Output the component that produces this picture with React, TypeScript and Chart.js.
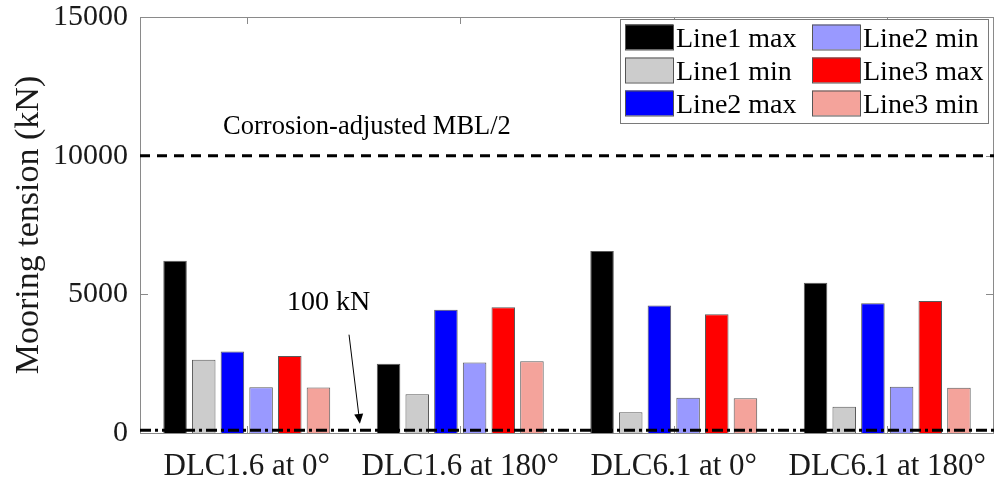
import React, { useEffect, useRef } from "react";
import { Chart, registerables } from "chart.js";

Chart.register(...registerables);

const categories = ["DLC1.6 at 0°", "DLC1.6 at 180°", "DLC6.1 at 0°", "DLC6.1 at 180°"];
const line1Max = [6210, 2500, 6560, 5420];
const line1Min = [2640, 1400, 750, 950];
const line2Max = [2940, 4440, 4600, 4680];
const line2Min = [1650, 2540, 1270, 1670];
const line3Max = [2780, 4530, 4280, 4760];
const line3Min = [1640, 2590, 1250, 1630];
const seriesLabels = ["Line1 max", "Line1 min", "Line2 max", "Line2 min", "Line3 max", "Line3 min"];
const seriesValues = [line1Max, line1Min, line2Max, line2Min, line3Max, line3Min];
const seriesColors = ["#000000", "#cccccc", "#0000ff", "#9999ff", "#ff0000", "#f4a39b"];
const yTicks = [0, 5000, 10000, 15000];
const mblHalf = 10000;
const minTension = 100;
const mblLabel = "Corrosion-adjusted MBL/2";
const minLabel = "100 kN";

const FONT = "'Liberation Serif', 'Times New Roman', serif";
const TEXT = "#1a1a1a";

const overlay = {
  id: "overlay",
  beforeDatasetsDraw(chart: any) {
    const { ctx, chartArea: a, scales } = chart;
    const x = scales.x;
    const y = scales.y;
    ctx.save();
    ctx.strokeStyle = "#8a8a8a";
    ctx.lineWidth = 1;
    ctx.beginPath();
    ctx.moveTo(a.left + 0.5, a.bottom + 0.5);
    ctx.lineTo(a.left + 0.5, a.top + 0.5);
    ctx.lineTo(a.right - 0.5, a.top + 0.5);
    ctx.lineTo(a.right - 0.5, a.bottom + 0.5);
    ctx.lineTo(a.left + 0.5, a.bottom + 0.5);
    for (const v of yTicks) {
      const py = Math.round(y.getPixelForValue(v)) + 0.5;
      ctx.moveTo(a.left, py);
      ctx.lineTo(a.left + 8, py);
      ctx.moveTo(a.right - 8, py);
      ctx.lineTo(a.right, py);
    }
    for (let i = 0; i < categories.length; i++) {
      const px = Math.round(x.getPixelForValue(i)) + 0.5;
      ctx.moveTo(px, a.bottom);
      ctx.lineTo(px, a.bottom - 7);
      ctx.moveTo(px, a.top);
      ctx.lineTo(px, a.top + 7);
    }
    ctx.stroke();
    ctx.restore();
  },
  afterDatasetsDraw(chart: any) {
    const { ctx, chartArea: a, scales } = chart;
    const x = scales.x;
    const y = scales.y;
    ctx.save();
    // threshold lines
    ctx.strokeStyle = "#000";
    ctx.lineWidth = 3;
    ctx.setLineDash([10, 7]);
    let py = y.getPixelForValue(mblHalf);
    ctx.beginPath();
    ctx.moveTo(a.left, py);
    ctx.lineTo(a.right, py);
    ctx.stroke();
    ctx.setLineDash([11, 4, 3, 4]);
    py = y.getPixelForValue(minTension);
    ctx.beginPath();
    ctx.moveTo(a.left, py);
    ctx.lineTo(a.right, py);
    ctx.stroke();
    ctx.setLineDash([]);

    // annotation texts
    ctx.fillStyle = "#000";
    ctx.textAlign = "left";
    ctx.textBaseline = "alphabetic";
    ctx.font = `26.5px ${FONT}`;
    ctx.fillText(mblLabel, x.getPixelForValue(-0.111), y.getPixelForValue(10780));
    ctx.font = `28px ${FONT}`;
    ctx.fillText(minLabel, x.getPixelForValue(0.1885), y.getPixelForValue(4430));

    // arrow
    const x0 = x.getPixelForValue(0.479);
    const y0 = y.getPixelForValue(3545);
    const x1 = x.getPixelForValue(0.53);
    const y1 = y.getPixelForValue(330);
    const ang = Math.atan2(y1 - y0, x1 - x0);
    const hl = 10;
    const hw = 4.5;
    const bx = x1 - hl * Math.cos(ang);
    const by = y1 - hl * Math.sin(ang);
    ctx.strokeStyle = "#000";
    ctx.lineWidth = 1;
    ctx.beginPath();
    ctx.moveTo(x0, y0);
    ctx.lineTo(bx, by);
    ctx.stroke();
    ctx.beginPath();
    ctx.moveTo(x1, y1);
    ctx.lineTo(bx + hw * Math.sin(ang), by - hw * Math.cos(ang));
    ctx.lineTo(bx - hw * Math.sin(ang), by + hw * Math.cos(ang));
    ctx.closePath();
    ctx.fillStyle = "#000";
    ctx.fill();

    // legend
    const boxW = 368;
    const boxH = 104;
    const bl = a.right - 6 - boxW;
    const bt = a.top + 2;
    ctx.fillStyle = "#fff";
    ctx.fillRect(bl, bt, boxW, boxH);
    ctx.strokeStyle = "#7a7a7a";
    ctx.lineWidth = 1;
    ctx.strokeRect(bl + 0.5, bt + 0.5, boxW, boxH);
    ctx.font = `28px ${FONT}`;
    ctx.textBaseline = "alphabetic";
    chart.data.datasets.forEach((ds: any, i: number) => {
      const col = Math.floor(i / 3);
      const row = i % 3;
      const sx = bl + 5 + col * 187;
      const cy = bt + 18 + row * 33;
      ctx.fillStyle = ds.backgroundColor;
      ctx.fillRect(sx, cy - 12.5, 48, 25);
      ctx.strokeStyle = "#555";
      ctx.strokeRect(sx + 0.5, cy - 12.5 + 0.5, 48, 25);
      ctx.fillStyle = "#000";
      ctx.fillText(ds.label, sx + 51, cy + 10);
    });
    ctx.restore();
  },
};

export default function App() {
  const ref = useRef<HTMLCanvasElement>(null);
  useEffect(() => {
    if (!ref.current) return;
    const chart = new Chart(ref.current, {
      type: "bar",
      data: {
        labels: categories,
        datasets: seriesLabels.map((label, i) => ({
          label,
          data: seriesValues[i],
          backgroundColor: seriesColors[i],
          borderColor: "rgba(60,60,60,0.85)",
          borderWidth: 1,
          categoryPercentage: 0.806,
          barPercentage: 0.82,
        })),
      },
      options: {
        responsive: false,
        animation: false,
        layout: { padding: { top: 17, right: 0, left: 0, bottom: 0 } },
        plugins: {
          legend: { display: false },
          tooltip: { enabled: false },
        },
        scales: {
          x: {
            grid: { display: false, drawTicks: false },
            border: { display: false },
            ticks: {
              font: { family: FONT, size: 31, lineHeight: 1.2 },
              color: TEXT,
              padding: 15,
              maxRotation: 0,
              autoSkip: false,
            },
            afterFit: (s: any) => {
              s.height = 50;
              s.paddingLeft = 0;
              s.paddingRight = 0;
            },
          },
          y: {
            min: 0,
            max: 15000,
            grid: { display: false, drawTicks: false },
            border: { display: false },
            ticks: {
              stepSize: 5000,
              font: { family: FONT, size: 30, lineHeight: 1 },
              color: TEXT,
              padding: 12,
              callback: (v: any) => String(v),
            },
            title: {
              display: true,
              text: "Mooring tension (kN)",
              font: { family: FONT, size: 34, lineHeight: 1 },
              color: TEXT,
              padding: { top: 12, bottom: 0 },
            },
            afterFit: (s: any) => {
              s.width = 140;
              s.paddingTop = 0;
              s.paddingBottom = 0;
            },
          },
        },
      },
      plugins: [overlay],
    });
    return () => chart.destroy();
  }, []);
  return (
    <div style={{ position: "absolute", left: 0, top: 0, width: 994, height: 483, background: "#fff" }}>
      <canvas ref={ref} width={994} height={483} style={{ display: "block" }} />
    </div>
  );
}
